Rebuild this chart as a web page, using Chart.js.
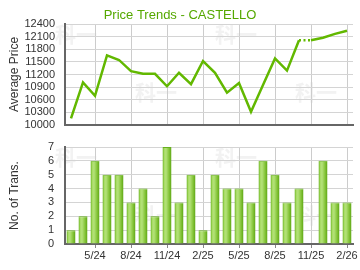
<!DOCTYPE html>
<html>
<head>
<meta charset="utf-8">
<script src="https://cdn.jsdelivr.net/npm/chart.js@4/dist/chart.umd.min.js"></script>
<style>
html,body{margin:0;padding:0;background:#fff;}
#wrap{position:relative;width:360px;height:270px;overflow:hidden;}
.box{position:absolute;left:0;width:360px;height:135px;}
</style>
</head>
<body>
<div id="wrap">
  <div class="box" style="top:0"><canvas id="top" width="360" height="135"></canvas></div>
  <div class="box" style="top:135px"><canvas id="bot" width="360" height="135"></canvas></div>
</div>
<script>
const chartTitle = 'Price Trends - CASTELLO';
const months = ['3/24','4/24','5/24','6/24','7/24','8/24','9/24','10/24','11/24','12/24','1/25','2/25',
                '3/25','4/25','5/25','6/25','7/25','8/25','9/25','10/25','11/25','12/25','1/26','2/26'];
const avgPrice = [10155,11012,10694,11656,11545,11278,11215,11215,10920,11240,10970,11520,
                  11240,10768,10995,10312,10948,11581,11292,12012,12012,12075,12166,12241];
const transCount = [1,2,6,5,5,3,4,2,7,3,5,1,5,4,4,3,6,5,3,4,0,6,3,3];
const priceTicks = {min:10000, max:12400, step:300};
const transTicks = {min:0, max:7, step:1};
const dottedFrom = 19; // segment 10/25 -> 11/25 (no transactions in 11/25)

const FONT = "'Liberation Sans', Arial, sans-serif";
const GREEN = '#62b800';
const shownTick = i => i % 3 === 2;

function watermark(positions){
  return {
    id:'wm',
    beforeDraw(chart){
      const c = chart.ctx;
      c.save();
      c.fillStyle = '#f2f2f2';
      c.font = "bold 21px 'Noto Sans CJK SC'";
      c.textAlign = 'center';
      c.textBaseline = 'middle';
      positions.forEach(p => c.fillText('科一', p[0], p[1]));
      c.restore();
    }
  };
}

const titlePlugin = {
  id:'ttl',
  afterDraw(chart){
    const c = chart.ctx;
    c.save();
    c.fillStyle = '#55a800';
    c.font = '13px ' + FONT;
    c.textAlign = 'center';
    c.textBaseline = 'middle';
    c.fillText(chartTitle, 180, 15);
    c.restore();
  }
};

new Chart(document.getElementById('top'), {
  type:'line',
  data:{
    labels: months,
    datasets:[{
      data: avgPrice,
      borderColor: GREEN,
      borderWidth: 2.5,
      pointRadius: 0,
      tension: 0,
      fill: false,
      segment:{
        borderDash: ctx => ctx.p0DataIndex === dottedFrom ? [2,2.5] : undefined
      }
    }]
  },
  options:{
    responsive:false,
    animation:false,
    layout:{padding:{top:24,right:7,bottom:0,left:0}},
    plugins:{legend:{display:false},tooltip:{enabled:false},title:{display:false}},
    scales:{
      x:{
        type:'category',
        offset:true,
        grid:{offset:false, drawTicks:false,
          color: ctx => shownTick(ctx.index) ? '#cccccc' : 'rgba(0,0,0,0)'},
        ticks:{display:false, autoSkip:false},
        border:{color:'#666666', width:2},
        afterFit: s => { s.height = 0; }
      },
      y:{
        min:priceTicks.min, max:priceTicks.max,
        ticks:{stepSize:priceTicks.step, autoSkip:false, padding:10, color:'#333333',
          font:{family:FONT, size:11, lineHeight:0.01}, callback: v => String(v)},
        grid:{color:'#d4d4d4', drawTicks:false},
        border:{color:'#666666', width:2},
        title:{display:true, text:'Average Price', color:'#333333', font:{family:FONT, size:12}, padding:{top:7,bottom:0}},
        afterFit: s => { s.width = 65; }
      }
    }
  },
  plugins:[watermark([[76,34],[156,92],[236,34],[316,92]]), titlePlugin]
});

function barGradient(ctx){
  const chart = ctx.chart;
  if (!chart.chartArea || ctx.type !== 'data') return '#8cc840';
  const xs = chart.scales.x;
  const cx = xs.getPixelForValue(ctx.dataIndex);
  const w = 9;
  const g = chart.ctx.createLinearGradient(cx - w/2, 0, cx + w/2, 0);
  g.addColorStop(0, '#5fae14');
  g.addColorStop(0.18, '#a6da62');
  g.addColorStop(0.38, '#b4e27a');
  g.addColorStop(0.72, '#86c53a');
  g.addColorStop(1, '#5aa512');
  return g;
}

new Chart(document.getElementById('bot'), {
  type:'bar',
  data:{
    labels: months,
    datasets:[{
      data: transCount,
      backgroundColor: barGradient,
      borderColor: '#66b01c',
      borderWidth: {top:1, left:0, right:0, bottom:0},
      categoryPercentage: 1,
      barPercentage: 0.75
    }]
  },
  options:{
    responsive:false,
    animation:false,
    layout:{padding:{top:12,right:7,bottom:0,left:0}},
    plugins:{legend:{display:false},tooltip:{enabled:false},title:{display:false}},
    scales:{
      x:{
        type:'category',
        offset:true,
        grid:{offset:false, tickLength:4,
          color: ctx => shownTick(ctx.index) ? '#cccccc' : 'rgba(0,0,0,0)',
          tickColor: ctx => shownTick(ctx.index) ? '#888888' : 'rgba(0,0,0,0)'},
        ticks:{autoSkip:false, maxRotation:0, padding:1, color:'#333333', font:{family:FONT, size:11},
          callback:(v,i) => shownTick(i) ? months[i] : ''},
        border:{color:'#666666', width:2},
        afterFit: s => { s.height = 26; }
      },
      y:{
        min:transTicks.min, max:transTicks.max,
        ticks:{stepSize:transTicks.step, autoSkip:false, padding:11, color:'#333333',
          font:{family:FONT, size:11, lineHeight:0.01}, callback: v => String(v)},
        grid:{color:'#d4d4d4', drawTicks:false},
        border:{color:'#666666', width:2},
        title:{display:true, text:'No. of Trans.', color:'#333333', font:{family:FONT, size:12}, padding:{top:7,bottom:0}},
        afterFit: s => { s.width = 65; }
      }
    }
  },
  plugins:[watermark([[76,22],[236,22],[156,80],[316,80]])]
});
</script>
</body>
</html>
